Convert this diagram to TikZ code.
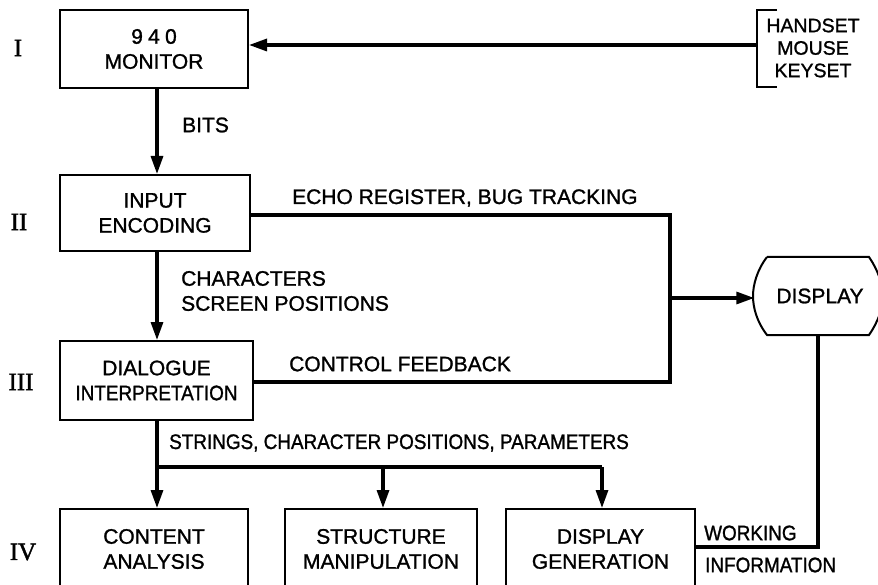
\documentclass[tikz,border=0pt]{standalone}
\usepackage{fontspec}
\setmainfont{Liberation Sans}[FakeBold=1.2]
\newfontfamily\narrowfont{Liberation Sans}[FakeBold=1.2, FakeStretch=0.9]
\newfontfamily\romfont{Liberation Serif}[FakeBold=1.5]
\usetikzlibrary{arrows.meta}
\tikzset{
  box/.style={draw, line width=2pt, rectangle, align=center, inner sep=0pt,
    font=\fontsize{21}{25}\selectfont},
  lbl/.style={font=\fontsize{21}{25}\selectfont, inner sep=0pt, align=left},
  rom/.style={font=\romfont\fontsize{25}{25}\selectfont, inner sep=0pt},
  wire/.style={line width=3.2pt},
  arr/.style={line width=3.2pt, -{Triangle[length=18pt,width=12pt]}},
}
\begin{document}
\begin{tikzpicture}[x=1pt,y=-1pt]
\useasboundingbox (0,0) rectangle (878,585);
\clip (0,0) rectangle (878,585);
% roman numerals
\node[rom] (r1) at (18,48) {I};
\node[rom] (r2) at (19,222) {II};
\node[rom] (r3) at (21,382) {III};
\node[rom] (r4) at (23,552) {IV};
% boxes
\node[box, minimum width=188pt, minimum height=78pt] (mon) at (154,49) {{\addfontfeature{LetterSpace=25}940}\\MONITOR};
\node[box, minimum width=190pt, minimum height=76pt] (inp) at (155,213) {INPUT\\ENCODING};
\node[box, minimum width=193pt, minimum height=79pt] (dia) at (156.5,380.5) {DIALOGUE\\{\narrowfont INTERPRETATION}};
\node[box, minimum width=188pt, minimum height=80pt] (ca) at (154,549) {CONTENT\\ANALYSIS};
\node[box, minimum width=192pt, minimum height=80pt] (sm) at (381,549) {STRUCTURE\\MANIPULATION};
\node[box, minimum width=189pt, minimum height=80pt] (dg) at (600.5,549) {DISPLAY\\GENERATION};
% display
\node[lbl, minimum width=131pt, minimum height=78pt, align=center] (disp) at (820,296) {DISPLAY};
\draw[line width=2pt] (767,257) -- (869,257)
  .. controls (878,270) and (883,285) .. (883,296)
  .. controls (883,308) and (878,322) .. (869,335)
  -- (767,335)
  .. controls (757,322) and (753,308) .. (753,296)
  .. controls (753,285) and (757,270) .. (767,257);
% handset bracket
\node[lbl, align=center, font=\fontsize{19.5}{22.5}\selectfont] (hand) at (813,48) {HANDSET\\MOUSE\\KEYSET};
\coordinate (hb) at (757,45);
\draw[line width=2pt] (777,10) -- (757,10) -- (757,87) -- (777,87);
% labels
\node[lbl, anchor=west] (bits) at (182,125) {BITS};
\node[lbl, anchor=west] (chars) at (181,291) {CHARACTERS\\SCREEN POSITIONS};
\node[lbl, anchor=west] (echo) at (292,198) {ECHO REGISTER, BUG TRACKING};
\node[lbl, anchor=west] (ctrl) at (289,364) {CONTROL FEEDBACK};
\node[lbl, anchor=west, font=\narrowfont\fontsize{21}{25}\selectfont] (str) at (169,443) {STRINGS, CHARACTER POSITIONS, PARAMETERS};
\node[lbl, anchor=west, font=\narrowfont\fontsize{21}{25}\selectfont] (work) at (704,533) {WORKING};
\node[lbl, anchor=west, font=\narrowfont\fontsize{21}{25}\selectfont] (info) at (705,565) {INFORMATION};
% coordinates
\coordinate (cx) at (157,0);
\coordinate (j1) at (670,215);
\coordinate (j2) at (670,382);
\coordinate (j3) at (670,298);
\coordinate (j4) at (818,547);
\coordinate (b1) at (157,467);
\coordinate (b2) at (383,467);
\coordinate (b3) at (602,467);
% connectors
\draw[arr] (hb) -- (mon.east |- hb);
\draw[arr] (cx |- mon.south) -- (cx |- inp.north);
\draw[arr] (cx |- inp.south) -- (cx |- dia.north);
\draw[wire] (inp.east |- j1) -- (j1) -- (j2) -- (dia.east |- j2);
\draw[arr] (j3) -- (disp.west |- j3);
\draw[wire] (j4 |- disp.south) -- (j4) -- (dg.east |- j4);
\draw[wire] (b1 |- dia.south) -- (b1) -- (b3);
\draw[arr] (b1) -- (b1 |- ca.north);
\draw[arr] (b2) -- (b2 |- sm.north);
\draw[arr] (b3) -- (b3 |- dg.north);
\end{tikzpicture}
\end{document}
